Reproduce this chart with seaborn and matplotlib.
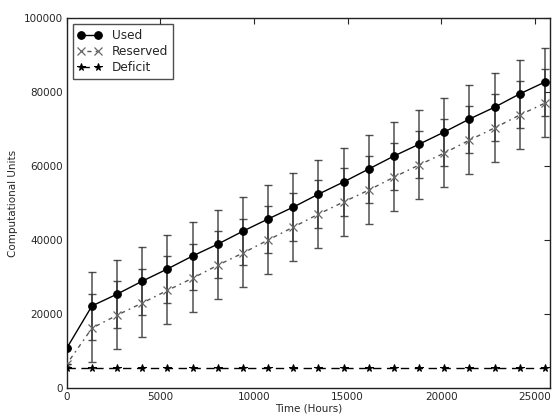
import numpy as np
import pandas as pd
import matplotlib
matplotlib.use("Agg")
import matplotlib.pyplot as plt
import seaborn as sns

hours = [0, 1344, 2688, 4032, 5376, 6720, 8064, 9408, 10752, 12096,
         13440, 14784, 16128, 17472, 18816, 20160, 21504, 22848, 24192, 25536]
used = [10800, 22200, 25400, 28900, 32200, 35700, 38900, 42400, 45700, 48900,
        52400, 55700, 59200, 62700, 65900, 69200, 72700, 75900, 79500, 82700]
reserved = [6500, 16200, 19700, 23000, 26400, 29700, 33200, 36500, 40000, 43500,
            47000, 50300, 53500, 57000, 60300, 63500, 67000, 70300, 73800, 77000]
deficit = [5500] * 20
err = [0] + [9200] * 19

sns.set_style("white")
plt.rcParams['font.family'] = ['DejaVu Sans']

fig = plt.figure(figsize=(5.52, 4.2), dpi=100)
ax = fig.add_axes([0.121, 0.076, 0.875, 0.881])

df = pd.DataFrame({"hours": hours, "used": used, "reserved": reserved, "deficit": deficit})

ax.errorbar(hours, used, yerr=err, fmt='none', ecolor='#333333', elinewidth=1.1,
            capsize=3, capthick=1.0, alpha=0.85, zorder=2)
ax.errorbar(hours, reserved, yerr=err, fmt='none', ecolor='#333333', elinewidth=1.1,
            capsize=3, capthick=1.0, alpha=0.85, zorder=2)

sns.lineplot(data=df, x="hours", y="used", ax=ax, color='black', marker='o',
             markersize=5.5, markeredgecolor='black', linewidth=1.0, label='Used', zorder=4)
sns.lineplot(data=df, x="hours", y="reserved", ax=ax, color='#555555', marker='x',
             markersize=6, markeredgecolor='#666666', markeredgewidth=0.9,
             linewidth=1.0, linestyle=(0, (1.2, 3, 3, 3)), label='Reserved', zorder=3)
sns.lineplot(data=df, x="hours", y="deficit", ax=ax, color='black', marker='*',
             markersize=5.5, markeredgecolor='black', linewidth=1.0,
             linestyle=(0, (6, 4)), label='Deficit', zorder=3)

ax.set_xlim(0, 25800)
ax.set_ylim(0, 100000)
ax.set_xticks([0, 5000, 10000, 15000, 20000, 25000])
ax.set_yticks([0, 20000, 40000, 60000, 80000, 100000])
ax.set_xlabel("Time (Hours)", fontsize=7.5, labelpad=1)
ax.set_ylabel("Computational Units", fontsize=7.5, labelpad=4)
ax.tick_params(direction='in', top=True, right=True, labelsize=7.5, length=4, width=0.8, pad=3)
for s in ax.spines.values():
    s.set_color('#222222')
    s.set_linewidth(1.0)

leg = ax.legend(loc='upper left', fontsize=8.7, numpoints=2, fancybox=False,
                frameon=True, edgecolor='#222222', borderpad=0.4, handlelength=2.0,
                labelspacing=0.25)
leg.get_frame().set_linewidth(1.0)

fig.savefig("out.png", dpi=100)
